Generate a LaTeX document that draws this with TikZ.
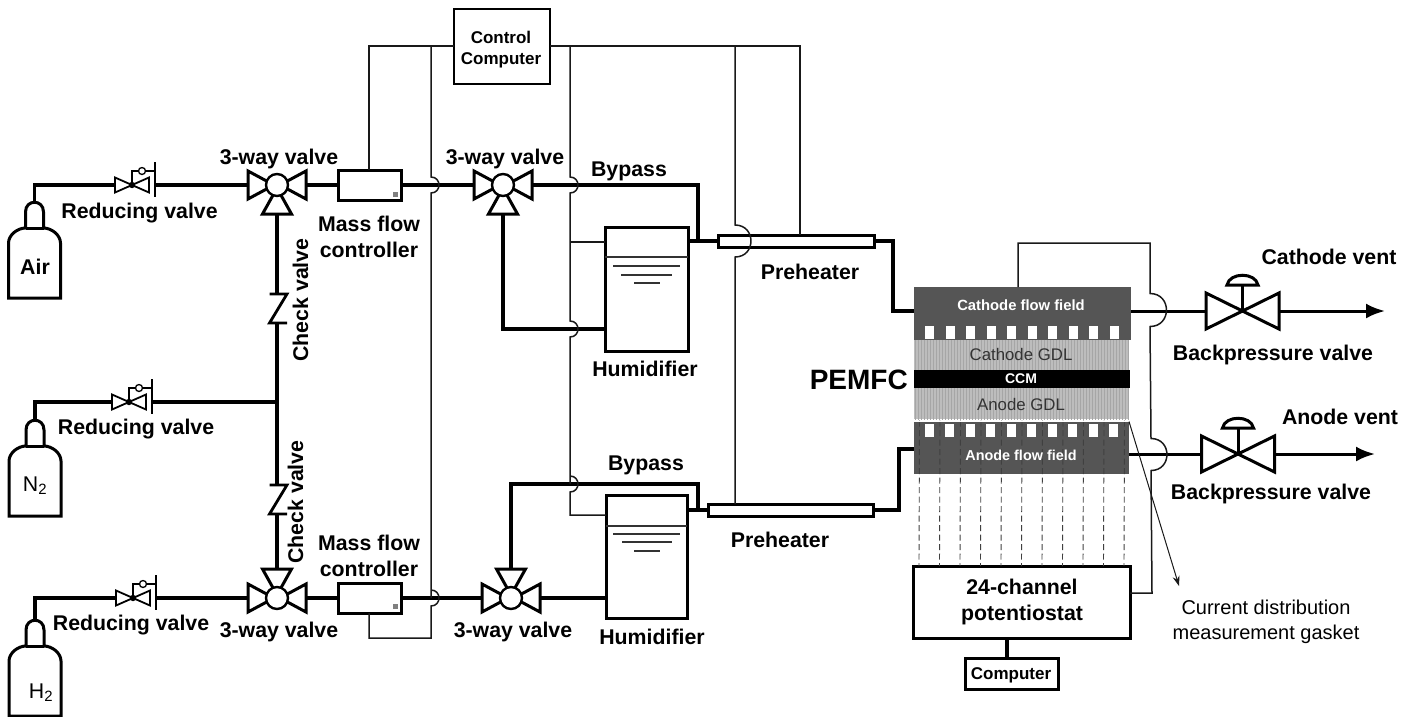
\documentclass[tikz,border=0pt]{standalone}
\usepackage{fontspec}
\setmainfont{Liberation Sans}
\usetikzlibrary{arrows.meta,calc,patterns}
\definecolor{flowgray}{HTML}{555555}
\definecolor{gdlgray}{HTML}{BDBDBD}
\newcommand{\hop}[3]{-- (#1,#2-#3) .. controls (#1+1.33*#3,#2-#3) and (#1+1.33*#3,#2+#3) .. (#1,#2+#3) -- }

\begin{document}
\begin{tikzpicture}[x=1pt,y=-1pt,font=\fontsize{21.3}{26}\selectfont\bfseries,>=Latex,
 pipe/.style={line width=3.2pt},
 wire/.style={line width=1.5pt,black!90},
 unit/.style={draw,line width=3pt,fill=white,inner sep=0pt,outer sep=0pt},
 lbl/.style={align=center,inner sep=0pt,text height=15pt,text depth=1pt},
 mlbl/.style={align=center,inner sep=0pt},
 slbl/.style={align=center,inner sep=0pt,font=\fontsize{17}{21}\selectfont\bfseries},
 layer/.style={inner sep=0pt,outer sep=0pt},
 vent/.style={line width=3pt,-{Latex[length=19pt,width=15pt]}},
 probe/.style={line width=.9pt,black!75,dash pattern=on 6pt off 3.5pt},
 water/.style={line width=1.4pt,black!80},
 cylinder/.pic={
  \draw[line width=3pt,fill=white] (-26,96) -- (-26,41) .. controls (-26,33) and (-17,26) .. (-9,26)
   -- (-9,10) .. controls (-9,-3) and (9,-3) .. (9,10) -- (9,26)
   .. controls (17,26) and (26,33) .. (26,41) -- (26,96) -- cycle;
  \draw[line width=3pt] (-9,26) -- (9,26);
  \coordinate (-top) at (0,0);},
 threeway/.pic={
  \draw[line width=3pt,fill=white,line join=miter] (-29,-14) -- (-3,0) -- (-29,14) -- cycle;
  \draw[line width=3pt,fill=white] (29,-14) -- (3,0) -- (29,14) -- cycle;
  \draw[line width=3pt,fill=white] (-14.5,29) -- (0,3) -- (14.5,29) -- cycle;
  \draw[line width=2.4pt,fill=white] (0,0) circle[radius=11pt];
  \coordinate (-l) at (-29,0);
  \coordinate (-r) at (29,0);
  \coordinate (-d) at (0,29);},
 regvalve/.pic={
  \draw[line width=1.8pt,fill=white] (-17,-7.5) -- (17,7.5) -- (17,-7.5) -- (-17,7.5) -- cycle;
  \draw[line width=1.3pt] (0,0) -- (0,-14) -- (6.5,-14) (13.5,-14) -- (23,-14) (23,-23) -- (23,12);
  \draw[line width=1.3pt] (10,-14) circle[radius=3.5pt];
  \fill (0,0) circle[radius=3.2pt];
  \coordinate (-l) at (-17,0);
  \coordinate (-r) at (23,0);},
 checkvalve/.pic={
  \draw[line width=2.8pt] (-7.5,-14.5) -- (10,-14.5) -- (-7.5,14.5) -- (10,14.5);
  \coordinate (-t) at (0,-14.5);
  \coordinate (-b) at (0,14.5);},
 backvalve/.pic={
  \draw[line width=3pt,fill=white] (-36.5,-18) -- (36.5,18) -- (36.5,-18) -- (-36.5,18) -- cycle;
  \draw[line width=3pt] (0,0) -- (0,-26);
  \draw[line width=3pt,fill=white] (-15.5,-26) .. controls (-13,-39) and (13,-39) .. (15.5,-26) -- cycle;
  \coordinate (-l) at (-36.5,0);
  \coordinate (-r) at (36.5,0);}]

\useasboundingbox (0,0) rectangle (1414,716);

% gas supply side
\pic (air) at (34.5,202) {cylinder};
\pic (nit) at (35,420) {cylinder};
\pic (hyd) at (35,620) {cylinder};
\node[lbl] (airlabel) at (35,267) {Air};
\node[lbl,font=\fontsize{21.3}{26}\selectfont] (nitlabel) at (35,484) {N\textsubscript{2}};
\node[lbl,font=\fontsize{21.3}{26}\selectfont] (hydlabel) at (41,691) {H\textsubscript{2}};

\pic (rvA) at (132,185) {regvalve};
\pic (rvB) at (129,402) {regvalve};
\pic (rvC) at (133,598) {regvalve};
\pic (twA) at (277,185) {threeway};
\pic[yscale=-1] (twC) at (277,598) {threeway};
\pic (chkA) at (277,308.5) {checkvalve};
\pic (chkB) at (277,499.5) {checkvalve};
\coordinate (join) at (277,402);

\node[unit,minimum width=63pt,minimum height=30pt] (mfcA) at (369.5,185) {};
\node[unit,minimum width=63pt,minimum height=30pt] (mfcB) at (369.5,598) {};
\fill[black!50] (393,192) rectangle ++(5,5);
\fill[black!50] (393,604) rectangle ++(5,5);

\draw[pipe] (air-top) |- (rvA-l);
\draw[pipe] (rvA-r) -- (twA-l);
\draw[pipe] (twA-r) -- (mfcA.west);
\draw[pipe] (nit-top) |- (rvB-l);
\draw[pipe] (rvB-r) -- (join);
\draw[pipe] (hyd-top) |- (rvC-l);
\draw[pipe] (rvC-r) -- (twC-l);
\draw[pipe] (twC-r) -- (mfcB.west);
\draw[pipe] (twA-d) -- (chkA-t);
\draw[pipe] (chkA-b) -- (chkB-t);
\draw[pipe] (chkB-b) -- (twC-d);

% humidifier lines
\pic (twB) at (503,185) {threeway};
\pic[yscale=-1] (twD) at (511,598) {threeway};
\node[unit,minimum width=83pt,minimum height=124pt] (humA) at (646.5,289) {};
\node[unit,minimum width=81pt,minimum height=123pt] (humB) at (646.5,556.5) {};
\node[unit,minimum width=156pt,minimum height=12pt] (preA) at (796,241) {};
\node[unit,minimum width=165pt,minimum height=12pt] (preB) at (790.5,510) {};
\draw[water] (humA.west |- 0,257) -- (humA.east |- 0,257);
\draw[water] (613,266) -- (680,266) (621,275) -- (672,275) (634,283) -- (660,283);
\draw[water] (humB.west |- 0,526) -- (humB.east |- 0,526);
\draw[water] (613,534) -- (680,534) (622,542) -- (672,542) (634,551) -- (660,551);

\coordinate (topA) at (698,185);
\coordinate (meetA) at (698,241);
\coordinate (lowA) at (503,329);
\coordinate (topB) at (511,484);
\coordinate (cornerB) at (698,484);
\coordinate (meetB) at (698,510);

\draw[pipe] (mfcA.east) -- (twB-l);
\draw[pipe] (twB-r) -- (topA) -- (meetA);
\draw[pipe] (humA.east |- meetA) -- (preA.west);
\draw[pipe] (twB-d) -- (lowA) -- (lowA -| humA.west);
\draw[pipe] (mfcB.east) -- (twD-l);
\draw[pipe] (twD-r) -- (twD-r -| humB.west);
\draw[pipe] (twD-d) -- (topB) -- (cornerB) -- (meetB);
\draw[pipe] (humB.east |- meetB) -- (preB.west);

% fuel cell stack
\node[layer,fill=flowgray,minimum width=217pt,minimum height=53pt] (cfield) at (1022.5,313.5) {};
\node[layer,fill=flowgray,minimum width=215pt,minimum height=52pt] (afield) at (1021.5,447.5) {};
\node[layer,preaction={fill=gdlgray},pattern=vertical lines,pattern color=black!35,minimum width=215pt,minimum height=30pt] (cgdl) at (1021.5,355) {};
\node[layer,fill=black,minimum width=216pt,minimum height=18pt] (ccm) at (1022,379) {};
\node[layer,preaction={fill=gdlgray},pattern=vertical lines,pattern color=black!35,minimum width=215pt,minimum height=31pt] (agdl) at (1021.5,403.5) {};
\foreach \i in {0,...,9}{
 \fill[white] (925+20.55*\i,326) rectangle ++(9,13);
 \fill[white] (924.5+20.55*\i,424) rectangle ++(9,13);
}

\node[unit,minimum width=217pt,minimum height=72pt] (pot) at (1021.5,602) {};
\node[unit,minimum width=93pt,minimum height=31pt] (comp) at (1011.5,673.5) {};
\coordinate (compjoin) at (1007,658);
\draw[pipe] (pot.south -| compjoin) -- (compjoin);
\foreach \i in {0,...,10}{
 \draw[probe] ($(afield.north west)+(5.5+20.5*\i,-1)$) -- ($(pot.north west)+(6+20.5*\i,0)$);
}
\draw[white,line width=1pt,dash pattern=on 8pt off 12.5pt] (916,421.5) -- (1129,421.5);

\coordinate (cornerC) at (893,241);
\coordinate (cornerD) at (893,311);
\coordinate (cornerE) at (899,510);
\coordinate (cornerF) at (899,449);
\draw[pipe] (preA.east) -- (cornerC) -- (cornerD) -- (cornerD -| cfield.west);
\draw[pipe] (preB.east) -- (cornerE) -- (cornerF) -- (cornerF -| afield.west);

\pic (bpA) at (1242.5,311) {backvalve};
\pic (bpB) at (1238,454) {backvalve};
\coordinate (ventA) at (1385,311);
\coordinate (ventB) at (1375,454);
\draw[pipe,line width=3pt] (bpA-l -| cfield.east) -- (bpA-l);
\draw[pipe,line width=3pt] (bpB-l -| afield.east) -- (bpB-l);
\draw[vent] (bpA-r) -- (ventA);
\draw[vent] (bpB-r) -- (ventB);

% signal wires
\node[unit,line width=2pt,minimum width=96pt,minimum height=75pt] (ctrl) at (501.5,46) {};
\node[slbl] (ctrllabel) at (501,50) {Control\\Computer};
\coordinate (wireA) at (369,46);
\coordinate (wireB) at (431,46);
\coordinate (wireC) at (570,46);
\coordinate (wireD) at (735,46);
\coordinate (wireE) at (800,46);
\draw[wire] (ctrl.west |- wireA) -- (wireA) -- (mfcA.north -| wireA);
\draw[wire] (wireB) \hop{431}{185}{8} (431,598) \hop{431}{598}{8} (431,638) -- (369,638) -- (369,613);
\draw[wire] (ctrl.east |- wireE) -- (wireE) -- (wireE |- preA.north);
\draw[wire] (wireC) \hop{570}{185}{8} (570,242) \hop{570}{329}{8} (570,484) \hop{570}{484}{8} (570,515) -- (humB.west |- 0,515);
\draw[wire] (570,242) -- (humA.west |- 0,242);
\draw[wire] (wireD) \hop{735}{241}{16} (wireD |- preB.north);
\draw[wire] (cfield.north -| 1018,0) -- (1018,243) -- (1150,243) \hop{1150}{310}{16.5} (1151,438.5) \hop{1151}{454.5}{16} (1152,593) -- (pot.east |- 0,593);
\draw[wire,line width=1pt,-{Stealth[length=10pt,width=7pt]}] (afield.north east) -- (1179,586);

% labels
\node[lbl] (rvAlabel) at (139.5,211) {Reducing valve};
\node[lbl] (rvBlabel) at (136,427) {Reducing valve};
\node[lbl] (rvClabel) at (131,623) {Reducing valve};
\node[lbl] (twAlabel) at (279,157) {3-way valve};
\node[lbl] (twBlabel) at (505,157) {3-way valve};
\node[lbl] (twClabel) at (279,630) {3-way valve};
\node[lbl] (twDlabel) at (513,630) {3-way valve};
\node[mlbl] (mfcAlabel) at (369,237) {Mass flow\\controller};
\node[mlbl] (mfcBlabel) at (369,556) {Mass flow\\controller};
\node[lbl,rotate=90] (chkAlabel) at (301,300) {Check valve};
\node[lbl,rotate=90] (chkBlabel) at (296,502) {Check valve};
\node[lbl] (byAlabel) at (629,169) {Bypass};
\node[lbl] (byBlabel) at (646,463) {Bypass};
\node[lbl] (preAlabel) at (810,272) {Preheater};
\node[lbl] (preBlabel) at (780,540) {Preheater};
\node[lbl] (humAlabel) at (645,369) {Humidifier};
\node[lbl] (humBlabel) at (652,637) {Humidifier};
\node[lbl,font=\fontsize{28}{30}\selectfont\bfseries,anchor=east,text height=20pt,text depth=0pt] (pemlabel) at (908,379) {PEMFC};
\node[lbl] (ventAlabel) at (1329,257) {Cathode vent};
\node[lbl] (ventBlabel) at (1340,417) {Anode vent};
\node[lbl] (bpAlabel) at (1273,353) {Backpressure valve};
\node[lbl] (bpBlabel) at (1271,492) {Backpressure valve};
\node[mlbl] (potlabel) at (1022,602) {24-channel\\potentiostat};
\node[slbl] (complabel) at (1011,675.5) {Computer};
\node[mlbl,font=\fontsize{20}{25}\selectfont] (gasketlabel) at (1266,621.5) {Current distribution\\measurement gasket};
\node[slbl,white,font=\fontsize{14.8}{18}\selectfont\bfseries] (cflabel) at (1021,305) {Cathode flow field};
\node[slbl,font=\fontsize{16.8}{20}\selectfont,black!80] (cgdllabel) at (1021,354) {Cathode GDL};
\node[slbl,white,font=\fontsize{14}{18}\selectfont\bfseries] (ccmlabel) at (1021,379) {CCM};
\node[slbl,font=\fontsize{16.8}{20}\selectfont,black!80] (agdllabel) at (1021,404) {Anode GDL};
\node[slbl,white,font=\fontsize{14.4}{18}\selectfont\bfseries] (aflabel) at (1021,455) {Anode flow field};

\end{tikzpicture}
\end{document}
